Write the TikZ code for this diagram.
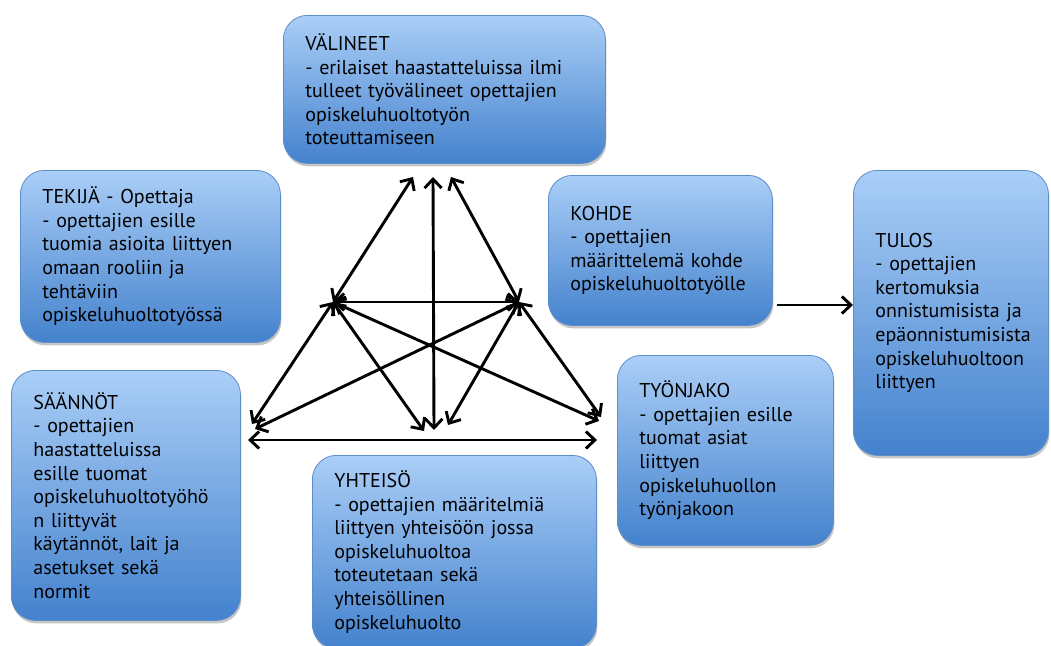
\documentclass[tikz,border=0pt]{standalone}
\usepackage{fontspec}
\setmainfont{PT Sans}
\usetikzlibrary{arrows.meta,shadows}
\definecolor{boxtop}{RGB}{170,206,247}
\definecolor{boxbot}{RGB}{68,130,205}
\definecolor{boxedge}{RGB}{92,142,204}
\begin{document}
\begin{tikzpicture}[x=1pt,y=-1pt,
  panel/.style={draw=boxedge, line width=0.8pt, rounded corners=24pt,
    top color=boxtop, bottom color=boxbot,
    drop shadow={shadow xshift=1pt, shadow yshift=-3pt, opacity=0.45},
    anchor=north west, align=left, inner xsep=22pt, inner ysep=0pt,
    font=\fontsize{20}{23.6}\selectfont, text=black},
  link/.style={line width=2.9pt, line cap=round,
    {Straight Barb[length=9pt,width=17pt]}-{Straight Barb[length=9pt,width=17pt]}},
  flow/.style={line width=2.9pt, -{Straight Barb[length=9pt,width=17pt]}}]
\useasboundingbox (0,0) rectangle (1051,645);

% activity system components
\node[panel, minimum width=322pt, minimum height=148pt, text width=278pt] (valineet) at (283,15)
  {VÄLINEET\\- erilaiset haastatteluissa ilmi\\tulleet työvälineet opettajien\\opiskeluhuoltotyön\\toteuttamiseen};
\node[panel, minimum width=260pt, minimum height=172pt, text width=216pt] (tekija) at (20,170)
  {TEKIJÄ - Opettaja\\- opettajien esille\\tuomia asioita liittyen\\omaan rooliin ja\\tehtäviin\\opiskeluhuoltotyössä};
\node[panel, minimum width=224pt, minimum height=150pt, text width=180pt] (kohde) at (548,175)
  {KOHDE\\- opettajien\\määrittelemä kohde\\opiskeluhuoltotyölle};
\node[panel, minimum width=195pt, minimum height=285pt, text width=151pt] (tulos) at (853,170)
  {TULOS\\- opettajien\\kertomuksia\\onnistumisista ja\\epäonnistumisista\\opiskeluhuoltoon\\liittyen};
\node[panel, minimum width=229pt, minimum height=250pt, text width=185pt] (saannot) at (11,370)
  {SÄÄNNÖT\\- opettajien\\haastatteluissa\\esille tuomat\\opiskeluhuoltotyöhö\\n liittyvät\\käytännöt, lait ja\\asetukset sekä\\normit};
\node[panel, minimum width=216pt, minimum height=190pt, text width=172pt] (tyonjako) at (617,355)
  {TYÖNJAKO\\- opettajien esille\\tuomat asiat\\liittyen\\opiskeluhuollon\\työnjakoon};
\node[panel, minimum width=284pt, minimum height=193pt, text width=240pt] (yhteiso) at (312,455)
  {YHTEISÖ\\- opettajien määritelmiä\\liittyen yhteisöön jossa\\opiskeluhuoltoa\\toteutetaan sekä\\yhteisöllinen\\opiskeluhuolto};

% arrow end points of the triangle
\coordinate (t1) at (413,177);
\coordinate (t2) at (433,177);
\coordinate (t3) at (451,177);
\coordinate (lm) at (333,302);
\coordinate (rm) at (519,302);
\coordinate (bl1) at (252,424);
\coordinate (bl2) at (255,429);
\coordinate (bl3) at (248,440);
\coordinate (bm1) at (424,431);
\coordinate (bm2) at (434,430);
\coordinate (bm3) at (448,425);
\coordinate (br1) at (599,421);
\coordinate (br2) at (601,417);
\coordinate (br3) at (597,440);

\draw[link] (t1) -- (lm);
\draw[link] (t2) -- (bm2);
\draw[link] (t3) -- (rm);
\draw[link] (lm) -- (rm);
\draw[link] (lm) -- (bl1);
\draw[link] (lm) -- (bm1);
\draw[link] (lm) -- (br1);
\draw[link] (rm) -- (bl2);
\draw[link] (rm) -- (bm3);
\draw[link] (rm) -- (br2);
\draw[link] (bl3) -- (br3);

% object leads to outcome
\draw[flow] (kohde.east |- 0,305) ++(4,0) -- (tulos.west |- 0,305);
\end{tikzpicture}
\end{document}
